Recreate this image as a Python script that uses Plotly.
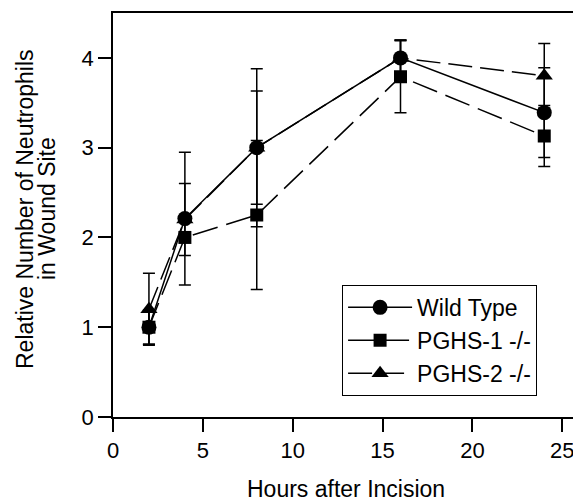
import plotly.graph_objects as go

hours = [2, 4, 8, 16, 24]

wt_vals = [1.0, 2.21, 3.0, 4.0, 3.39]
wt_err = [0.19, 0.74, 0.88, 0.2, 0.5]

pghs1_vals = [1.0, 2.0, 2.25, 3.79, 3.13]
pghs1_err = [0.19, 0.05, 0.83, 0.4, 0.34]

pghs2_vals = [1.2, 2.2, 3.0, 4.0, 3.8]
pghs2_err = [0.4, 0.4, 0.63, 0.2, 0.36]

x_ticks = [0, 5, 10, 15, 20, 25]
y_ticks = [0, 1, 2, 3, 4]

FONT = "Arial, 'Liberation Sans', Helvetica, sans-serif"
FS = 23
TFS = 22

def err(vals):
    return dict(type="data", array=vals, visible=True, color="black",
                thickness=1.5, width=6)

fig = go.Figure()
fig.add_trace(go.Scatter(
    x=hours, y=pghs2_vals, name="PGHS-2 -/-", mode="lines+markers",
    line=dict(color="black", width=1.5, dash="24px,8px"),
    marker=dict(symbol="triangle-up", size=15, color="black"),
    error_y=err(pghs2_err)))
fig.add_trace(go.Scatter(
    x=hours, y=pghs1_vals, name="PGHS-1 -/-", mode="lines+markers",
    line=dict(color="black", width=1.5, dash="26px,9px"),
    marker=dict(symbol="square", size=13, color="black"),
    error_y=err(pghs1_err)))
fig.add_trace(go.Scatter(
    x=hours, y=wt_vals, name="Wild Type", mode="lines+markers",
    line=dict(color="black", width=1.5),
    marker=dict(symbol="circle", size=15, color="black"),
    error_y=err(wt_err)))

fig.update_layout(
    width=573, height=503,
    margin=dict(l=113, r=0, t=13, b=86),
    paper_bgcolor="white", plot_bgcolor="white",
    font=dict(family=FONT, size=FS, color="black"),
    showlegend=True,
    legend=dict(x=0.498, y=0.327, xanchor="left", yanchor="top",
                bordercolor="black", borderwidth=1, bgcolor="white",
                traceorder="reversed", font=dict(size=FS),
                itemwidth=64),
)
fig.update_xaxes(range=[0, 25.6], tickvals=x_ticks, ticks="outside",
                 ticklen=13, tickwidth=1.5, tickcolor="black",
                 showline=True, linecolor="black", linewidth=1.5,
                 mirror=True, showgrid=False, zeroline=False,
                 ticklabeloverflow="allow", tickfont=dict(size=TFS))
fig.update_yaxes(range=[0, 4.5], tickvals=y_ticks, ticks="outside",
                 ticklen=13, tickwidth=1.5, tickcolor="black",
                 showline=True, linecolor="black", linewidth=1.5,
                 showgrid=False, zeroline=False, tickfont=dict(size=TFS))

fig.add_annotation(text="Hours after Incision", xref="paper", yref="paper",
                   x=(346 - 113) / 460, y=(417 - 489) / 404,
                   xanchor="center", yanchor="middle", showarrow=False,
                   font=dict(size=FS))
fig.add_annotation(text="Relative Number of Neutrophils", xref="paper",
                   yref="paper", x=(25 - 113) / 460, y=(417 - 209) / 404,
                   xanchor="center", yanchor="middle", textangle=-90,
                   showarrow=False, font=dict(size=FS))
fig.add_annotation(text="in Wound Site", xref="paper",
                   yref="paper", x=(47 - 113) / 460, y=(417 - 209) / 404,
                   xanchor="center", yanchor="middle", textangle=-90,
                   showarrow=False, font=dict(size=FS))

fig.write_html("out.html")
